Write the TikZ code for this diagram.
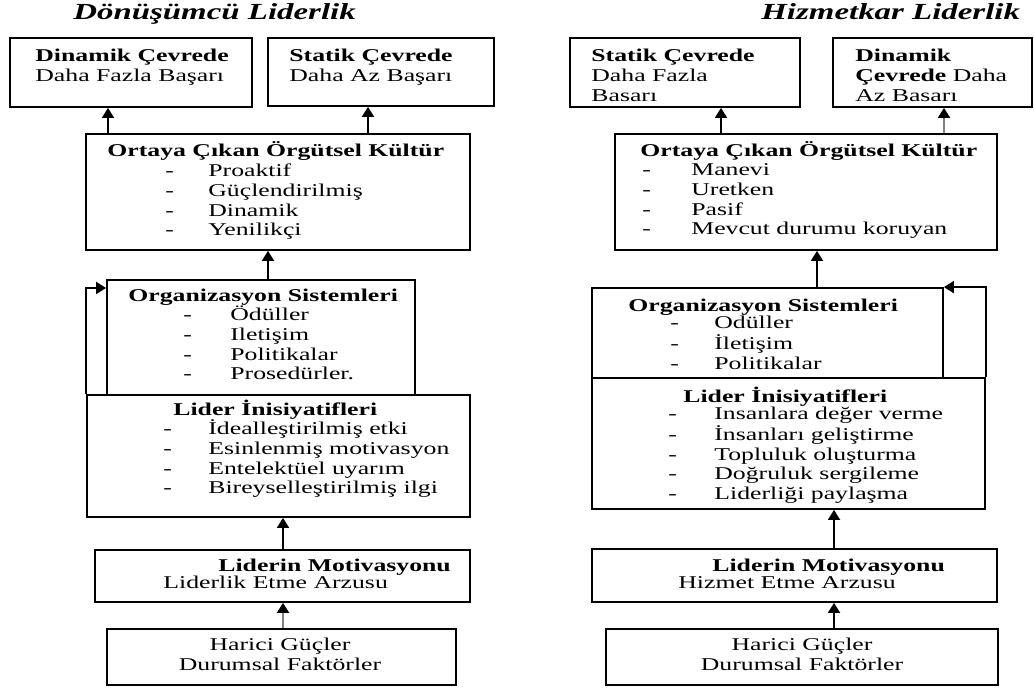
\documentclass[tikz,border=0pt]{standalone}
\usepackage{fontspec}
\setmainfont[FakeStretch=1.43,BoldItalicFont={Liberation Serif Bold Italic}]{Liberation Serif}
\usetikzlibrary{fit,arrows.meta}
\tikzstyle{kutu}=[draw,line width=0.9pt,inner sep=0pt]
\tikzstyle{yazi}=[inner sep=0pt,anchor=base west,font=\fontsize{9}{9.8}\selectfont]
\tikzstyle{orta}=[yazi,anchor=base]
\tikzstyle{baslik}=[inner sep=0pt,anchor=base west,font=\fontsize{11.5}{12}\selectfont\bfseries\itshape]
\tikzstyle{ok}=[line width=0.9pt,-{Triangle[width=6pt,length=5pt]}]
\tikzstyle{gok}=[line width=1pt,draw=gray,-{Triangle[width=6pt,length=5pt,color=black]}]

\begin{document}
\begin{tikzpicture}[x=0.5pt,y=-0.5pt]
    \useasboundingbox (0,0) rectangle (1034,688);
    % Donusumcu liderlik
    \node[baslik] (dBaslik) at (73,20) {Dönüşümcü Liderlik};
    \node[kutu,fit={(10,38) (252,107)}] (dA) {};
    \node[yazi] (dAt) at (35,62) {\begin{tabular}[t]{@{}l@{}}\textbf{Dinamik Çevrede}\\ Daha Fazla Başarı\end{tabular}};
    \node[kutu,fit={(268,38) (494,106)}] (dB) {};
    \node[yazi] (dBt) at (289,62) {\begin{tabular}[t]{@{}l@{}}\textbf{Statik Çevrede}\\ Daha Az Başarı\end{tabular}};
    \node[kutu,fit={(86,134) (470,250)}] (dKultur) {};
    \node[yazi] (dKulturB) at (107,157) {\bfseries Ortaya Çıkan Örgütsel Kültür};
    \node[yazi] (dKulturL) at (165,177) {\begin{tabular}[t]{@{}p{21.5pt}@{}l@{}}- & Proaktif\\ - & Güçlendirilmiş\\ - & Dinamik\\ - & Yenilikçi\end{tabular}};
    \node[kutu,fit={(107,280) (415,395)}] (dOrg) {};
    \node[yazi] (dOrgB) at (128,302) {\bfseries Organizasyon Sistemleri};
    \node[yazi] (dOrgL) at (183,321) {\begin{tabular}[t]{@{}p{23.5pt}@{}l@{}}- & Ödüller\\ - & Iletişim\\ - & Politikalar\\ - & Prosedürler.\end{tabular}};
    \node[kutu,fit={(87,395) (470,517)}] (dLider) {};
    \node[yazi] (dLiderB) at (173,416) {\bfseries Lider İnisiyatifleri};
    \node[yazi] (dLiderL) at (163,435) {\begin{tabular}[t]{@{}p{22.5pt}@{}l@{}}- & İdealleştirilmiş etki\\ - & Esinlenmiş motivasyon\\ - & Entelektüel uyarım\\ - & Bireyselleştirilmiş ilgi\end{tabular}};
    \node[kutu,fit={(95,550) (470,602)}] (dMotiv) {};
    \node[yazi] (dMotivB) at (218,572) {\bfseries Liderin Motivasyonu};
    \node[yazi] (dMotivA) at (163,589) {Liderlik Etme Arzusu};
    \node[kutu,fit={(107,629) (456,685)}] (dHarici) {};
    \node[orta] (dHariciT) at (280,651) {\begin{tabular}[t]{@{}c@{}}Harici Güçler\\ Durumsal Faktörler\end{tabular}};

    % Hizmetkar liderlik
    \node[baslik] (hBaslik) at (761,20) {Hizmetkar Liderlik};
    \node[kutu,fit={(570,38) (800,107)}] (hA) {};
    \node[yazi] (hAt) at (591,62) {\begin{tabular}[t]{@{}l@{}}\textbf{Statik Çevrede}\\ Daha Fazla\\ Basarı\end{tabular}};
    \node[kutu,fit={(833,38) (1032,107)}] (hB) {};
    \node[yazi] (hBt) at (855,62) {\begin{tabular}[t]{@{}l@{}}\textbf{Dinamik}\\ \textbf{Çevrede} Daha\\ Az Basarı\end{tabular}};
    \node[kutu,fit={(615,134) (997,250)}] (hKultur) {};
    \node[yazi] (hKulturB) at (640,157) {\bfseries Ortaya Çıkan Örgütsel Kültür};
    \node[yazi] (hKulturL) at (642,176) {\begin{tabular}[t]{@{}p{24.5pt}@{}l@{}}- & Manevi\\ - & Uretken\\ - & Pasif\\ - & Mevcut durumu koruyan\end{tabular}};
    \node[kutu,fit={(592,288) (943,378)}] (hOrg) {};
    \node[yazi] (hOrgB) at (628,312) {\bfseries Organizasyon Sistemleri};
    \node[yazi] (hOrgL) at (670,329) {\begin{tabular}[t]{@{}p{22pt}@{}l@{}}- & Odüller\\ - & İletişim\\ - & Politikalar\end{tabular}};
    \node[kutu,fit={(592,378) (985,509)}] (hLider) {};
    \node[yazi] (hLiderB) at (683,403) {\bfseries Lider İnisiyatifleri};
    \node[yazi] (hLiderL) at (668,420) {\begin{tabular}[t]{@{}p{23pt}@{}l@{}}- & Insanlara değer verme\\ - & İnsanları geliştirme\\ - & Topluluk oluşturma\\ - & Doğruluk sergileme\\ - & Liderliği paylaşma\end{tabular}};
    \node[kutu,fit={(592,549) (997,602)}] (hMotiv) {};
    \node[yazi] (hMotivB) at (712,572) {\bfseries Liderin Motivasyonu};
    \node[yazi] (hMotivA) at (678,589) {Hizmet Etme Arzusu};
    \node[kutu,fit={(606,629) (998,685)}] (hHarici) {};
    \node[orta] (hHariciT) at (802,651) {\begin{tabular}[t]{@{}c@{}}Harici Güçler\\ Durumsal Faktörler\end{tabular}};

    \foreach \x/\from/\to in {108/dKultur/dA,368/dKultur/dB,268/dOrg/dKultur,283/dMotiv/dLider,721/hKultur/hA,817/hOrg/hKultur,834/hMotiv/hLider,834/hHarici/hMotiv}
    \draw[ok] (\x,0 |- \from.north) -- (\x,0 |- \to.south);
    \foreach \x/\from/\to in {283/dHarici/dMotiv,944/hKultur/hB}
    \draw[gok] (\x,0 |- \from.north) -- (\x,0 |- \to.south);

    \draw[ok] (dLider.north west) |- (dOrg.west |- 0,288);
    \draw[ok] (hLider.north east) |- (hOrg.north east);
\end{tikzpicture}
\end{document}
